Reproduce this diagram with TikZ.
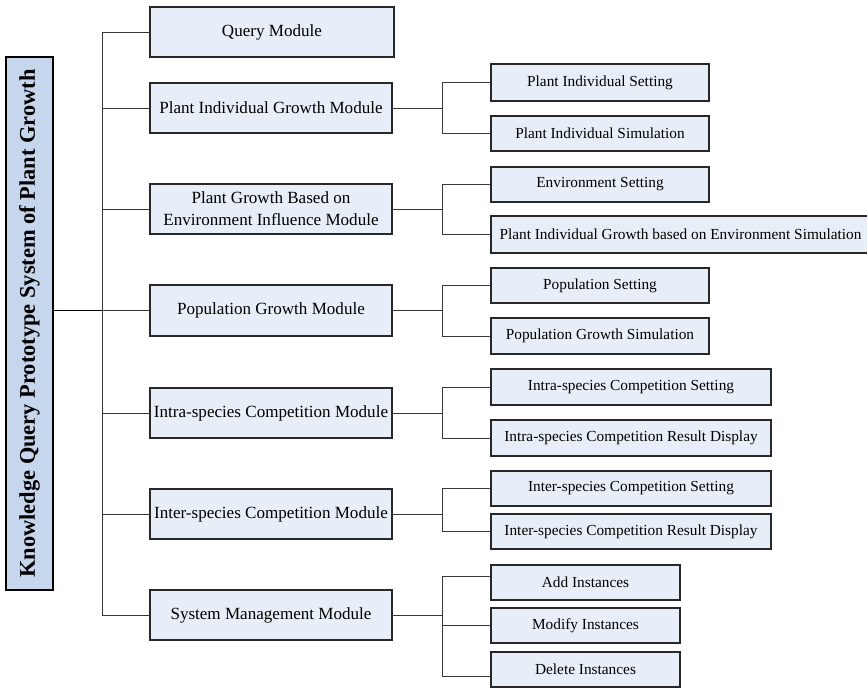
\documentclass[tikz,border=0pt]{standalone}
\usepackage{fontspec}
\setmainfont{Liberation Serif}
\definecolor{boxfill}{RGB}{232,238,247}
\definecolor{titlefill}{RGB}{198,214,236}
\definecolor{edge}{RGB}{40,40,40}
\definecolor{wire}{RGB}{55,55,55}
\tikzset{
  modbox/.style={draw=edge, line width=0.8pt, fill=boxfill, inner sep=0pt, outer sep=0pt,
    align=center, font=\fontsize{12.8}{16.3}\selectfont},
  subbox/.style={draw=edge, line width=0.8pt, fill=boxfill, inner sep=0pt, outer sep=0pt,
    align=center, font=\fontsize{11.5}{14}\selectfont},
  titlebox/.style={draw=black, line width=1.6pt, fill=titlefill, inner sep=0pt, outer sep=0pt,
    font=\fontsize{16.8}{20}\selectfont\bfseries},
  conn/.style={draw=wire, line width=0.7pt},
  tconn/.style={draw=black, line width=1.2pt}
}
% box by its corners (x1,y1)-(x2,y2), in pixel units
\newcommand\cornerbox[7]{%
  \node[#6, minimum width={(#4-#2)*0.75pt}, minimum height={(#5-#3)*0.75pt}]
    (#1) at ({(#2+#4)/2},{(#3+#5)/2}) {#7};}
\begin{document}
\begin{tikzpicture}[x=0.75pt,y=-0.75pt]
\useasboundingbox (0,0) rectangle (867,688);
\fill[white] (0,0) rectangle (867,688);
\clip (0,0) rectangle (867,688);

% title
\node[titlebox, rotate=90, minimum width=533*0.75pt, minimum height=47*0.75pt]
  (title) at (29.5,323.5) {Knowledge Query Prototype System of Plant Growth};

% modules
\cornerbox{query}{150}{7}{394}{57}{modbox}{Query Module}
\cornerbox{pigm}{150}{83}{392}{133}{modbox}{Plant Individual Growth Module}
\cornerbox{pgbe}{150}{184}{392}{234}{modbox}{Plant Growth Based on\\Environment Influence Module}
\cornerbox{popm}{150}{285}{392}{336}{modbox}{Population Growth Module}
\cornerbox{intra}{150}{388}{392}{438}{modbox}{Intra-species Competition Module}
\cornerbox{inter}{150}{489}{392}{539}{modbox}{Inter-species Competition Module}
\cornerbox{sysm}{150}{590}{392}{640}{modbox}{System Management Module}

% sub-modules
\cornerbox{pis}{491}{64}{709}{101}{subbox}{Plant Individual Setting}
\cornerbox{pisim}{491}{116}{709}{151}{subbox}{Plant Individual Simulation}
\cornerbox{env}{491}{167}{709}{202}{subbox}{Environment Setting}
\cornerbox{pigbe}{491}{216}{870}{253}{subbox}{Plant Individual Growth based on Environment Simulation}
\cornerbox{pops}{491}{268}{709}{303}{subbox}{Population Setting}
\cornerbox{popsim}{491}{318}{709}{354}{subbox}{Population Growth Simulation}
\cornerbox{intras}{491}{369}{771}{405}{subbox}{Intra-species Competition Setting}
\cornerbox{intrar}{491}{420}{771}{456}{subbox}{Intra-species Competition Result Display}
\cornerbox{inters}{491}{471}{771}{506}{subbox}{Inter-species Competition Setting}
\cornerbox{interr}{491}{514}{771}{549}{subbox}{Inter-species Competition Result Display}
\cornerbox{add}{491}{565}{680}{600}{subbox}{Add Instances}
\cornerbox{mod}{491}{608}{680}{643}{subbox}{Modify Instances}
\cornerbox{del}{491}{652}{680}{687}{subbox}{Delete Instances}

% trunk and bus positions
\coordinate (trunk) at (102,0);
\coordinate (bus) at (442,0);

% trunk to the modules
\draw[conn] (query.west -| trunk) -- (sysm.west -| trunk);
\foreach \m in {query,pigm,pgbe,popm,intra,inter,sysm}
  \draw[conn] (\m.west) -- (\m.west -| trunk);
\draw[tconn] (title.south |- popm.west) -- (popm.west -| trunk);

% modules to their sub-modules
\foreach \m/\a/\b in {pigm/pis/pisim, pgbe/env/pigbe, popm/pops/popsim,
                      intra/intras/intrar, inter/inters/interr} {
  \draw[conn] (\m.east) -- (\m.east -| bus);
  \draw[conn] (\a.west) -- (\a.west -| bus) -- (\b.west -| bus) -- (\b.west);
}
\draw[conn] (sysm.east) -- (sysm.east -| bus);
\draw[conn] ([yshift=4.9pt]add.west) -- ([yshift=4.9pt]add.west -| bus)
  -- ([yshift=-4.9pt]del.west -| bus) -- ([yshift=-4.9pt]del.west);
\draw[conn] (mod.west) -- (mod.west -| bus);
\end{tikzpicture}
\end{document}
